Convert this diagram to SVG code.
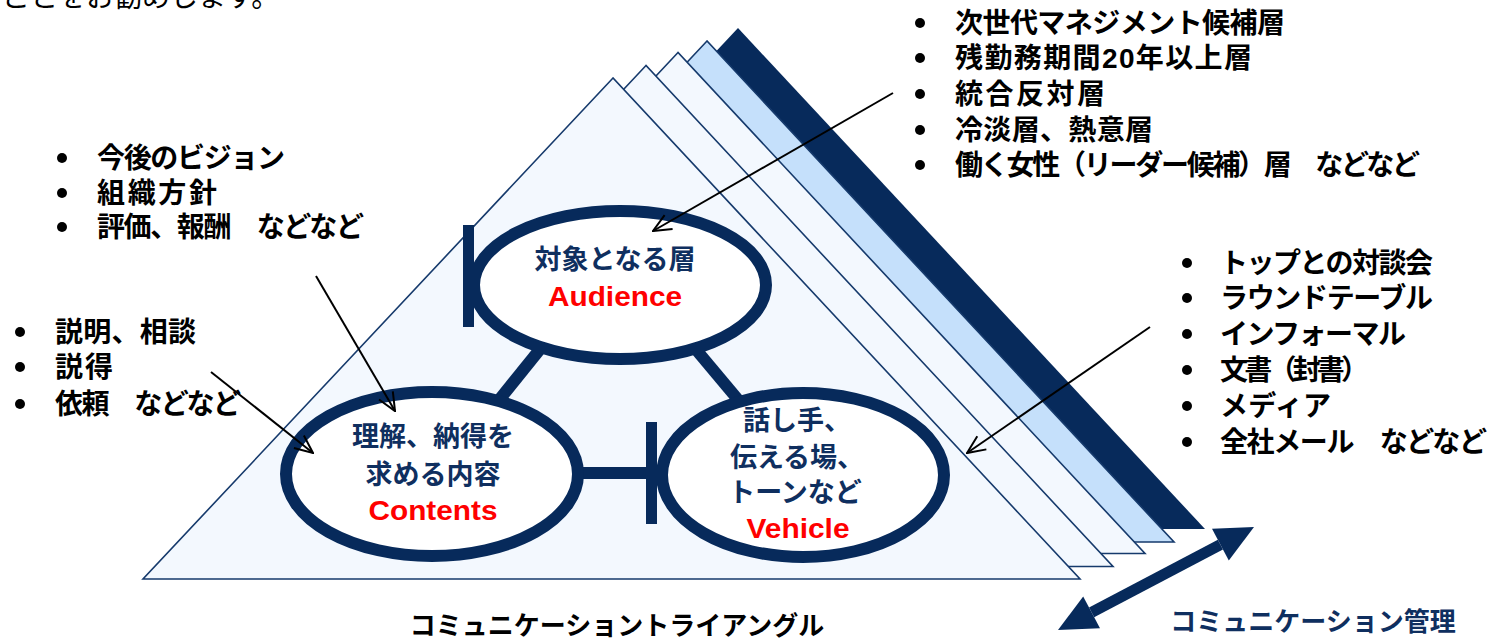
<svg xmlns="http://www.w3.org/2000/svg" width="1492" height="640" viewBox="0 0 1492 640">
<style>
.jp{font-family:"Liberation Sans","Noto Sans CJK JP",sans-serif;font-weight:700;}
.list{font-size:28px;fill:#000;}
.inner{font-size:27px;fill:#0f2f5f;text-anchor:middle;}
.en{font-family:"Liberation Sans",Arial,sans-serif;font-weight:700;font-size:28px;fill:#ff0000;text-anchor:middle;}
.layer{fill:#f3f8fe;stroke:#163a6c;stroke-width:1.6;}
.ell{fill:#ffffff;stroke:#072a5b;stroke-width:12;}
.bar{fill:#072a5b;}
.thick{stroke:#072a5b;stroke-width:12;fill:none;}
.arrow{stroke:#000;stroke-width:2;fill:none;marker-end:url(#ah);}
.dot{fill:#000;}
</style>
<defs>
<marker id="ah" viewBox="0 0 20 20" refX="19" refY="10" markerWidth="20" markerHeight="20" markerUnits="userSpaceOnUse" orient="auto">
<path d="M1,2 L19,10 L1,18" fill="none" stroke="#000" stroke-width="2"/>
</marker>
</defs>
<rect width="1492" height="640" fill="#ffffff"/>
<text x="2" y="7" font-family="Liberation Sans,Noto Sans CJK JP,sans-serif" font-size="28" fill="#000">ことをお勧めします。</text>

<g id="layers">
<polygon points="738,28 268,529 1205,529" fill="#072a5b"/>
<polygon points="707,41 237,542 1174,542" fill="#c5e0fb" stroke="#163a6c" stroke-width="1.6"/>
<polygon class="layer" points="678,52.5 208,553.5 1145,553.5"/>
<polygon class="layer" points="646,65.5 176,566.5 1113,566.5"/>
<polygon class="layer" points="613,78 143,579 1080,579"/>
</g>

<g id="connectors">
<line class="thick" x1="545" y1="343" x2="495" y2="405"/>
<line class="thick" x1="688" y1="340" x2="745" y2="408"/>
<line class="thick" x1="575" y1="473" x2="650" y2="473"/>
</g>

<g id="audience">
<ellipse class="ell" cx="620" cy="285" rx="146" ry="74"/>
<rect class="bar" x="463" y="225" width="11" height="102"/>
<text class="jp inner" x="615" y="269">対象となる層</text>
<text class="en" x="615" y="306" textLength="134" lengthAdjust="spacingAndGlyphs">Audience</text>
</g>

<g id="contents">
<ellipse class="ell" cx="432" cy="474" rx="146" ry="82"/>
<text class="jp inner" x="433" y="446">理解、納得を</text>
<text class="jp inner" x="433" y="484">求める内容</text>
<text class="en" x="433" y="520" textLength="129" lengthAdjust="spacingAndGlyphs">Contents</text>
</g>

<g id="vehicle">
<ellipse class="ell" cx="803" cy="475" rx="141" ry="82"/>
<rect class="bar" x="646" y="422" width="11" height="102"/>
<text class="jp inner" x="797" y="430">話し手、</text>
<text class="jp inner" x="797" y="467">伝える場、</text>
<text class="jp inner" x="795" y="502">トーンなど</text>
<text class="en" x="798" y="538" textLength="103" lengthAdjust="spacingAndGlyphs">Vehicle</text>
</g>

<g id="arrows">
<line class="arrow" x1="893" y1="93" x2="653" y2="231"/>
<line class="arrow" x1="316" y1="276" x2="395" y2="411"/>
<line class="arrow" x1="211" y1="372" x2="313" y2="453"/>
<line class="arrow" x1="1150" y1="327" x2="967" y2="453"/>
</g>

<g id="management-arrow">
<line x1="1091.6" y1="612.3" x2="1220.4" y2="544.7" stroke="#072a5b" stroke-width="11"/>
<polygon points="1254,527 1212,528.8 1228.8,560.6" fill="#072a5b"/>
<polygon points="1058,630 1100,628.2 1083.2,596.4" fill="#072a5b"/>
</g>

<g id="audience-list">
<circle class="dot" cx="920" cy="23" r="5"/>
<circle class="dot" cx="920" cy="58" r="5"/>
<circle class="dot" cx="920" cy="94" r="5"/>
<circle class="dot" cx="920" cy="130" r="5"/>
<circle class="dot" cx="920" cy="165" r="5"/>
<text class="jp list" x="955" y="33" textLength="330" lengthAdjust="spacing">次世代マネジメント候補層</text>
<text class="jp list" x="955" y="68" textLength="297" lengthAdjust="spacing">残勤務期間20年以上層</text>
<text class="jp list" x="955" y="104" textLength="150" lengthAdjust="spacing">統合反対層</text>
<text class="jp list" x="955" y="140" textLength="198" lengthAdjust="spacing">冷淡層、熱意層</text>
<text class="jp list" x="955" y="175" textLength="465" lengthAdjust="spacing">働く女性（リーダー候補）層　などなど</text>
</g>

<g id="contents-list">
<circle class="dot" cx="62" cy="158" r="5"/>
<circle class="dot" cx="62" cy="193" r="5"/>
<circle class="dot" cx="62" cy="227" r="5"/>
<text class="jp list" x="97" y="168" textLength="188" lengthAdjust="spacing">今後のビジョン</text>
<text class="jp list" x="97" y="203" textLength="120" lengthAdjust="spacing">組織方針</text>
<text class="jp list" x="97" y="237" textLength="267" lengthAdjust="spacing">評価、報酬　などなど</text>
</g>

<g id="method-list">
<circle class="dot" cx="20" cy="332" r="5"/>
<circle class="dot" cx="20" cy="367" r="5"/>
<circle class="dot" cx="20" cy="404" r="5"/>
<text class="jp list" x="55" y="342" textLength="141" lengthAdjust="spacing">説明、相談</text>
<text class="jp list" x="55" y="377" textLength="58" lengthAdjust="spacing">説得</text>
<text class="jp list" x="55" y="414" textLength="186" lengthAdjust="spacing">依頼　などなど</text>
</g>

<g id="vehicle-list">
<circle class="dot" cx="1187" cy="263" r="5"/>
<circle class="dot" cx="1187" cy="298" r="5"/>
<circle class="dot" cx="1187" cy="334" r="5"/>
<circle class="dot" cx="1187" cy="370" r="5"/>
<circle class="dot" cx="1187" cy="406" r="5"/>
<circle class="dot" cx="1187" cy="442" r="5"/>
<text class="jp list" x="1220" y="273" textLength="213" lengthAdjust="spacing">トップとの対談会</text>
<text class="jp list" x="1220" y="308" textLength="213" lengthAdjust="spacing">ラウンドテーブル</text>
<text class="jp list" x="1220" y="344" textLength="186" lengthAdjust="spacing">インフォーマル</text>
<text class="jp list" x="1220" y="380" textLength="149" lengthAdjust="spacing">文書（封書）</text>
<text class="jp list" x="1220" y="416" textLength="111" lengthAdjust="spacing">メディア</text>
<text class="jp list" x="1220" y="452" textLength="267" lengthAdjust="spacing">全社メール　などなど</text>
</g>

<g id="labels">
<text class="jp" x="617" y="635" font-size="26" fill="#000" text-anchor="middle">コミュニケーショントライアングル</text>
<text class="jp" x="1313" y="631" font-size="26" fill="#0f2f5f" text-anchor="middle">コミュニケーション管理</text>
</g>
</svg>
